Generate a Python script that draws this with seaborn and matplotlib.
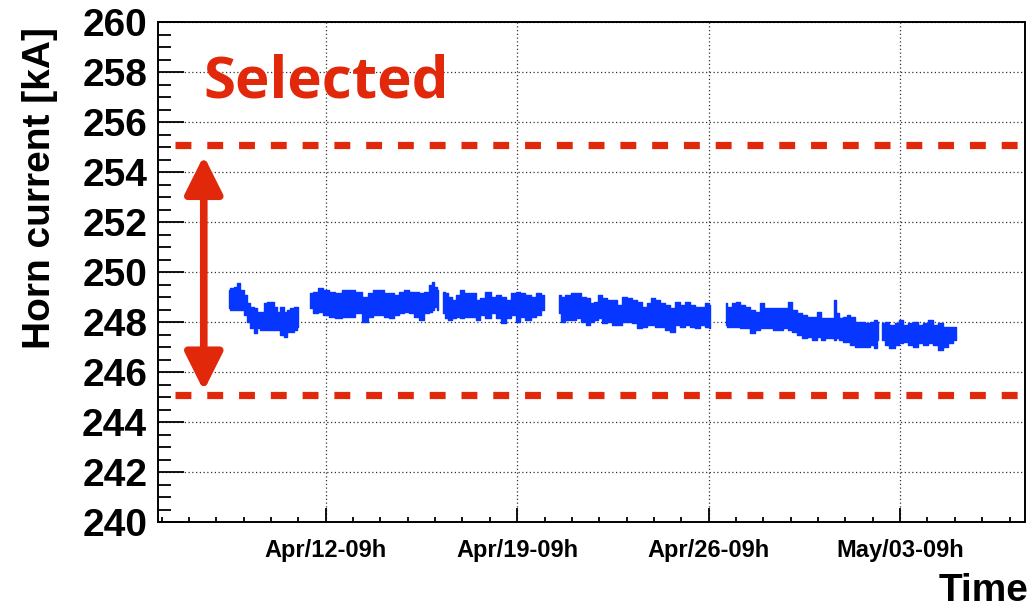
import matplotlib
matplotlib.use("Agg")
import matplotlib.pyplot as plt
from matplotlib.ticker import MultipleLocator
import numpy as np
import pandas as pd
import seaborn as sns

# Horn current monitor: time in hours relative to Apr/12 09:00,
# upper / lower edge of the measured current band in kA, one block per run period.
RUN1_H = [-85.1, -82.2, -79.3, -76.4, -73.4, -70.5, -67.6, -64.7, -61.7, -58.8,
          -55.9, -53.0, -50.0, -47.1, -44.2, -41.3, -38.3, -35.4, -32.5, -29.6,
          -26.6, -24.3]
RUN1_HI = [249.28, 249.35, 249.41, 249.55, 249.28, 249.08, 248.75, 248.61, 248.55, 248.41,
           248.41, 248.75, 248.81, 248.81, 248.61, 248.41, 248.61, 248.41, 248.48, 248.55,
           248.61, 248.61]
RUN1_LO = [248.55, 248.48, 248.48, 248.48, 248.48, 248.28, 248.01, 247.75, 247.55, 247.75,
           247.68, 247.68, 247.68, 247.68, 247.68, 247.68, 247.48, 247.41, 247.61, 247.61,
           247.68, 247.81]

RUN2_H = [-13.5, -9.1, -4.7, -0.3, 5.5, 11.4, 17.2, 22.8, 28.6, 34.5,
          38.9, 43.3, 49.1, 53.5, 57.9, 62.3, 66.7, 71.1, 75.4, 79.8,
          84.2, 88.6, 92.4, 93.6, 95.9, 98.8]
RUN2_HI = [249.15, 249.21, 249.35, 249.28, 249.21, 249.15, 249.28, 249.28, 249.21, 249.01,
           249.15, 249.28, 249.28, 249.15, 249.15, 249.08, 249.21, 249.28, 249.21, 249.21,
           249.15, 249.21, 249.48, 249.61, 249.41, 249.28]
RUN2_LO = [248.55, 248.35, 248.41, 248.28, 248.21, 248.15, 248.21, 248.21, 248.35, 248.01,
           248.21, 248.28, 248.28, 248.21, 248.15, 248.28, 248.35, 248.41, 248.35, 248.21,
           248.08, 248.35, 248.41, 248.48, 248.61, 248.48]

RUN3_H = [102.6, 106.2, 109.1, 112.0, 116.4, 119.3, 123.7, 129.3, 133.6, 138.0,
          142.4, 146.8, 151.2, 155.6, 160.0, 164.4, 168.7, 173.1, 177.5, 181.9,
          186.3, 191.6]
RUN3_HI = [249.21, 249.15, 249.01, 248.88, 249.08, 249.28, 249.15, 249.15, 248.88, 248.95,
           249.21, 249.01, 249.08, 249.01, 248.88, 249.15, 249.21, 249.15, 249.08, 249.01,
           249.15, 249.08]
RUN3_LO = [248.35, 248.15, 248.08, 248.15, 248.21, 248.15, 248.21, 248.21, 248.08, 248.28,
           248.15, 248.35, 248.15, 247.95, 248.15, 248.28, 248.01, 248.21, 248.08, 248.21,
           248.28, 248.48]

RUN4_H = [204.7, 208.2, 212.6, 217.0, 221.4, 225.8, 230.2, 232.8, 237.2, 240.1,
          244.5, 248.9, 253.3, 257.7, 262.1, 266.4, 270.8, 275.2, 279.6, 284.0,
          286.9, 291.3, 295.7, 300.1, 304.5, 308.9, 313.2, 317.6, 322.0, 326.4,
          330.8, 335.2, 337.5]
RUN4_HI = [249.08, 249.01, 249.08, 249.15, 249.15, 249.01, 248.95, 248.75, 248.81, 249.08,
           248.95, 248.88, 248.88, 248.68, 249.01, 248.95, 248.88, 248.81, 248.61, 248.75,
           248.95, 248.88, 248.75, 248.68, 248.55, 248.81, 248.68, 248.81, 248.68, 248.61,
           248.61, 248.75, 248.68]
RUN4_LO = [248.35, 248.01, 248.08, 248.08, 248.15, 248.01, 247.88, 248.01, 248.08, 248.15,
           247.95, 248.01, 247.88, 247.88, 248.01, 248.01, 247.95, 247.75, 247.81, 247.88,
           247.88, 247.81, 247.81, 247.68, 247.61, 247.88, 247.81, 247.88, 247.81, 247.75,
           247.88, 247.81, 247.75]

RUN5_H = [351.0, 353.9, 358.3, 361.2, 365.6, 370.0, 374.4, 378.8, 383.1, 386.1,
          390.5, 394.8, 399.2, 403.6, 408.0, 410.9, 415.3, 419.7, 424.1, 428.5,
          432.9, 435.8, 440.2, 444.6, 446.6, 449.0, 451.6, 456.0, 458.9, 461.8,
          466.2, 470.6, 475.0, 479.4, 482.3, 484.4]
RUN5_HI = [248.75, 248.61, 248.75, 248.81, 248.68, 248.61, 248.48, 248.41, 248.75, 248.55,
           248.55, 248.55, 248.55, 248.55, 248.81, 248.48, 248.35, 248.28, 248.21, 248.21,
           248.41, 248.15, 248.15, 248.15, 248.88, 248.35, 248.15, 248.21, 248.28, 248.21,
           248.01, 248.01, 247.95, 248.01, 248.08, 248.01]
RUN5_LO = [247.88, 247.81, 247.81, 247.81, 247.75, 247.75, 247.55, 247.68, 247.75, 247.75,
           247.75, 247.68, 247.68, 247.75, 247.68, 247.61, 247.48, 247.35, 247.41, 247.28,
           247.41, 247.28, 247.35, 247.35, 247.28, 247.35, 247.28, 247.21, 247.21, 247.08,
           247.01, 247.01, 247.01, 247.08, 246.95, 247.28]

RUN6_H = [488.2, 492.5, 496.9, 501.3, 504.2, 508.6, 513.0, 517.4, 521.8, 526.2,
          530.6, 534.9, 539.3, 543.7, 548.1, 553.1]
RUN6_HI = [247.95, 248.01, 247.88, 247.95, 248.08, 247.88, 247.95, 248.01, 247.88, 247.95,
           248.08, 247.88, 247.95, 247.81, 247.81, 247.81]
RUN6_LO = [247.28, 247.08, 246.95, 247.08, 247.15, 247.21, 247.08, 247.01, 247.15, 247.08,
           247.15, 247.08, 246.88, 247.01, 247.15, 247.28]

# Selection window
CUT_LOW = 245.1
CUT_HIGH = 255.1
CUT_SPAN_H = [-132.0, 609.0]
ARROW_H = -107.0
ARROW_LIMITS = [245.25, 254.65]

# Axes
X_RANGE_H = [-146.9, 613.6]
Y_RANGE = [240, 260]
Y_TICKS = [240, 242, 244, 246, 248, 250, 252, 254, 256, 258, 260]
X_TICK_HOURS = [0, 168, 336, 504]
X_TICK_LABELS = ["Apr/12-09h", "Apr/19-09h", "Apr/26-09h", "May/03-09h"]

BLUE = "#0636ff"
RED = "#e2280b"

runs = [
    (RUN1_H, RUN1_HI, RUN1_LO), (RUN2_H, RUN2_HI, RUN2_LO), (RUN3_H, RUN3_HI, RUN3_LO),
    (RUN4_H, RUN4_HI, RUN4_LO), (RUN5_H, RUN5_HI, RUN5_LO), (RUN6_H, RUN6_HI, RUN6_LO),
]
frames = []
for i, (h, hi, lo) in enumerate(runs):
    frames.append(pd.DataFrame({"hours": h, "upper": hi, "lower": lo, "run": i + 1}))
band = pd.concat(frames, ignore_index=True)

sns.set_style("white")
plt.rcParams["font.family"] = ["Liberation Sans", "DejaVu Sans"]
plt.rcParams["font.weight"] = "bold"
for key in ["text.color", "axes.labelcolor", "xtick.color", "ytick.color"]:
    plt.rcParams[key] = "black"

fig = plt.figure(figsize=(10.32, 6.09), dpi=100)
ax = fig.add_axes([158.3 / 1032, 1 - 522 / 609, 866.7 / 1032, 500 / 609])

# current band for each run period
for run_id, grp in band.groupby("run"):
    ax.fill_between(grp["hours"], grp["lower"], grp["upper"], step="mid",
                    facecolor=BLUE, edgecolor=BLUE, linewidth=1.0, zorder=3)

# selection cuts
cuts = pd.DataFrame({
    "hours": CUT_SPAN_H * 2,
    "current": [CUT_HIGH, CUT_HIGH, CUT_LOW, CUT_LOW],
    "cut": ["high", "high", "low", "low"],
})
for name, grp in cuts.groupby("cut"):
    sns.lineplot(data=grp, x="hours", y="current", ax=ax, color=RED, lw=5.2,
                 linestyle=(0, (2.2, 2.2)), dash_capstyle="butt",
                 zorder=4, estimator=None, sort=False)

ax.annotate("", xy=(ARROW_H, ARROW_LIMITS[1]), xytext=(ARROW_H, ARROW_LIMITS[0]),
            arrowprops=dict(arrowstyle="<|-|>,head_length=23,head_width=11.5",
                            mutation_scale=1, color=RED, lw=5.5,
                            shrinkA=0, shrinkB=0),
            zorder=5)

ax.set_xlim(*X_RANGE_H)
ax.set_ylim(*Y_RANGE)
ax.set_yticks(Y_TICKS)
ax.yaxis.set_minor_locator(MultipleLocator(0.5))
ax.set_xticks(X_TICK_HOURS)
ax.set_xticklabels(X_TICK_LABELS)
ax.xaxis.set_minor_locator(MultipleLocator(24))

ax.grid(True, which="major", linestyle=(0, (1, 2)), color="#333333", lw=0.9)
ax.set_axisbelow(True)

for side in ["left", "bottom", "top", "right"]:
    ax.spines[side].set_visible(True)
    ax.spines[side].set_color("black")
    ax.spines[side].set_linewidth(1.4)

ax.tick_params(axis="both", which="both", direction="in", bottom=True, left=True,
               top=False, right=False, color="black", labelcolor="black", width=1.3)
ax.tick_params(axis="y", which="major", length=18.5, labelsize=28, pad=8)
ax.tick_params(axis="y", which="minor", length=9.3)
ax.tick_params(axis="x", which="major", length=10, labelsize=17, pad=12.5)
ax.tick_params(axis="x", which="minor", length=3.8)
for lab in ax.get_xticklabels() + ax.get_yticklabels():
    lab.set_fontweight("bold")

ax.set_ylabel("Horn current [kA]", fontsize=28, fontweight="bold", va="center")
ax.yaxis.set_label_coords(-0.1365, 0.668)
ax.set_xlabel("Time", fontsize=28, fontweight="bold", ha="right", va="center")
ax.xaxis.set_label_coords(1.0035, -0.138)

fig.text(203 / 1032, 1 - 97 / 609, "Selected", fontsize=42, color=RED,
         family=["Open Sans", "DejaVu Sans"], fontweight="bold",
         ha="left", va="baseline")

fig.savefig("out.png", dpi=100)
